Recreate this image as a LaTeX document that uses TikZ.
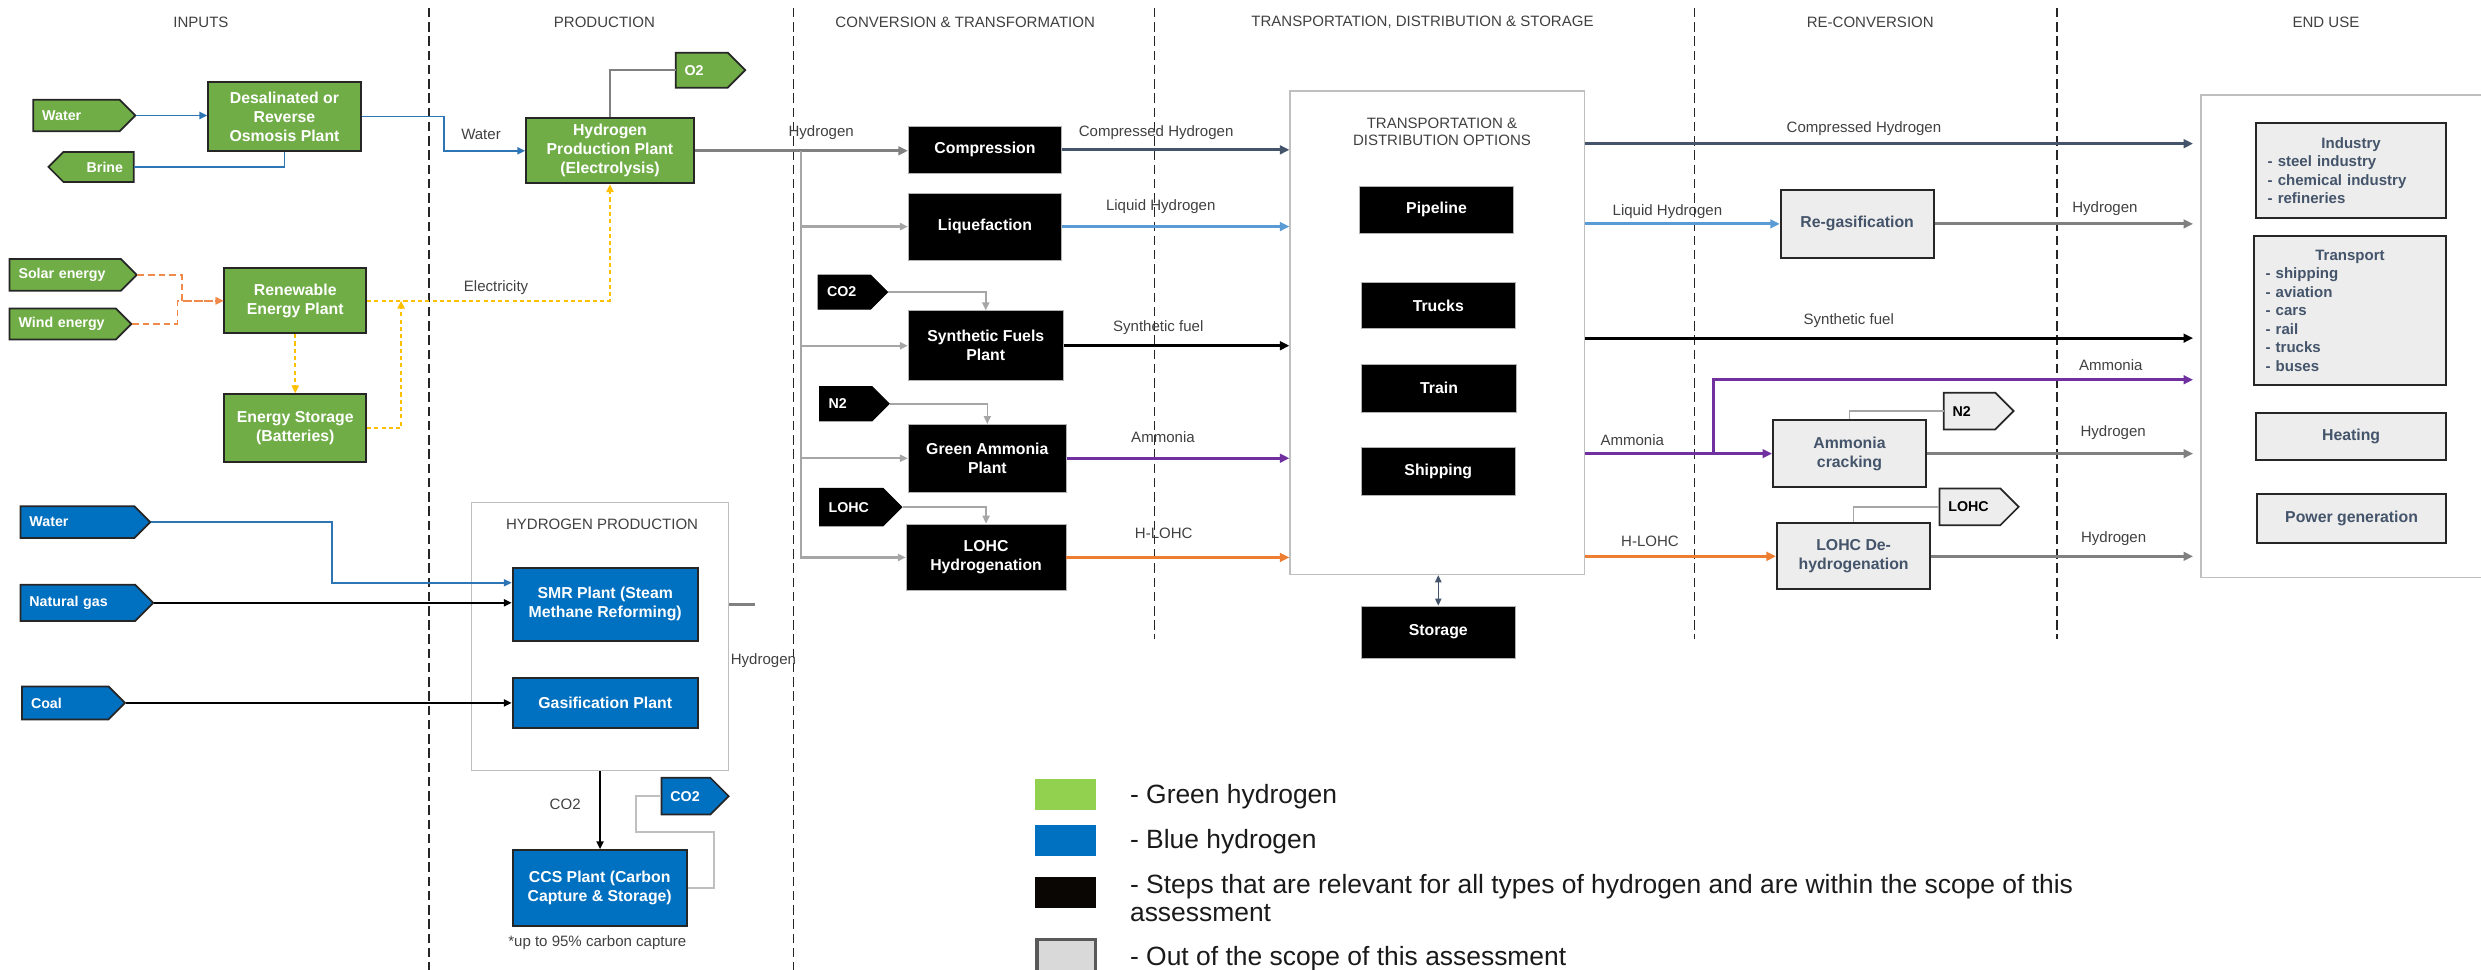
\documentclass[tikz,border=0pt]{standalone}
\usepackage{fontspec}
\setmainfont{Liberation Sans}
\usetikzlibrary{arrows.meta,calc}

\definecolor{ggreen}{HTML}{70AD47}
\definecolor{bblue}{HTML}{0070C0}
\definecolor{edge}{HTML}{262626}
\definecolor{txtgray}{HTML}{404040}
\definecolor{lgreen}{HTML}{92D050}
\definecolor{slate}{HTML}{44546A}
\definecolor{lblue}{HTML}{5B9BD5}
\definecolor{purp}{HTML}{7030A0}
\definecolor{orng}{HTML}{ED7D31}
\definecolor{lorng}{HTML}{F08A4B}
\definecolor{yell}{HTML}{FFC000}
\definecolor{hgray}{HTML}{808080}
\definecolor{lgray}{HTML}{A6A6A6}
\definecolor{cgray}{HTML}{BFBFBF}
\definecolor{boxgray}{HTML}{EDEDED}
\definecolor{wblue}{HTML}{2E75B6}
\definecolor{leggray}{HTML}{D9D9D9}
\definecolor{legedge}{HTML}{595959}
\definecolor{legtxt}{HTML}{1A1A1A}

% pentagon tag pointing right: shape style, text style, name, x1, x2, y1, y2, text
\newcommand{\tagE}[8]{%
  \pgfmathsetmacro\tgh{(#7-#6)/2}%
  \pgfmathsetmacro\tgH{#7-#6}%
  \pgfmathsetmacro\tgm{(#6+#7)/2}%
  \pgfmathsetmacro\tgw{#5-#4}%
  \pgfmathsetmacro\tgp{#5-\tgh}%
  \pgfmathsetmacro\tgt{#5-#4-11}%
  \path[#1] (#4,#6) -- (\tgp,#6) -- (#5,\tgm) -- (\tgp,#7) -- (#4,#7) -- cycle;
  \node[#2, align=left, inner xsep=5.5pt, inner ysep=0pt, text width=\tgt pt,
        minimum width=\tgw pt, minimum height=\tgH pt, anchor=west] (#3) at (#4,\tgm) {#8};
}
% pentagon tag pointing left
\newcommand{\tagW}[8]{%
  \pgfmathsetmacro\tgh{(#7-#6)/2}%
  \pgfmathsetmacro\tgH{#7-#6}%
  \pgfmathsetmacro\tgm{(#6+#7)/2}%
  \pgfmathsetmacro\tgw{#5-#4}%
  \pgfmathsetmacro\tgp{#4+\tgh}%
  \pgfmathsetmacro\tgt{#5-#4-13}%
  \path[#1] (#4,\tgm) -- (\tgp,#6) -- (#5,#6) -- (#5,#7) -- (\tgp,#7) -- cycle;
  \node[#2, align=right, inner xsep=6.5pt, inner ysep=0pt, text width=\tgt pt,
        minimum width=\tgw pt, minimum height=\tgH pt, anchor=east] (#3) at (#5,\tgm) {#8};
}

\tikzset{
  lbl/.style={font=\fontsize{9.5}{11}\selectfont, text=txtgray, inner sep=0pt},
  wh/.style 2 args={minimum width=#1pt, minimum height=#2pt},
  boxbase/.style={rectangle, align=center, inner sep=0pt,
    font=\fontsize{10}{12}\selectfont\bfseries},
  greenbox/.style={boxbase, fill=ggreen, draw=edge, line width=1.2pt, text=white},
  bluebox/.style={boxbase, fill=bblue, draw=edge, line width=1.2pt, text=white},
  blackbox/.style={boxbase, fill=black, draw=gray!60, line width=0.5pt, text=white},
  greybox/.style={boxbase, fill=boxgray, draw=edge, line width=1.2pt, text=slate},
  listbox/.style={greybox, align=left, font=\fontsize{9.5}{11.7}\selectfont\bfseries},
  container/.style={rectangle, draw=cgray, line width=1pt, inner sep=0pt},
  gtag/.style={fill=ggreen, draw=edge, line width=1.1pt},
  btag/.style={fill=bblue, draw=edge, line width=1.1pt},
  ktag/.style={fill=black, draw=black, line width=0.6pt},
  ytag/.style={fill=boxgray, draw=edge, line width=1.1pt},
  wtext/.style={text=white, font=\fontsize{9}{10}\selectfont\bfseries},
  ktext/.style={text=black, font=\fontsize{9}{10}\selectfont\bfseries},
  divider/.style={draw=edge, line width=0.9pt, dash pattern=on 6pt off 3pt},
  smalltip/.style={-{Triangle[length=5pt,width=4.5pt]}},
  flow/.style={line width=1.8pt, -{Triangle[length=6pt,width=5.5pt]}},
  water/.style={color=wblue, line width=1.1pt, smalltip},
  feed/.style={color=black, line width=1.2pt, smalltip},
  branch/.style={color=lgray, line width=1.4pt, smalltip},
  tagfeed/.style={color=lgray, line width=1pt, smalltip},
  tagline/.style={color=lgray, line width=1pt},
  solarline/.style={color=lorng, line width=1.1pt, dash pattern=on 4.2pt off 2.5pt, smalltip},
  elec/.style={color=yell, line width=1.3pt, dash pattern=on 2.6pt off 2pt, smalltip},
  legsq/.style={rectangle, inner sep=0pt, minimum width=38.8pt, minimum height=19.6pt},
  legtext/.style={font=\fontsize{16.7}{18}\selectfont, text=legtxt, inner sep=0pt, anchor=base west},
}

\begin{document}
\begin{tikzpicture}[x=1pt,y=-1pt]
\useasboundingbox (0,0) rectangle (1568,613);

% ---------- column headers and dividers ----------
\node[lbl] (hin)  at (127,14)  {INPUTS};
\node[lbl] (hpr)  at (382,14)  {PRODUCTION};
\node[lbl] (hct)  at (610,14)  {CONVERSION \& TRANSFORMATION};
\node[lbl] (htd)  at (899,14)  {TRANSPORTATION, DISTRIBUTION \& STORAGE};
\node[lbl] (hrc)  at (1182,14) {RE-CONVERSION};
\node[lbl] (heu)  at (1470,14) {END USE};

\draw[divider] (271,5) -- (271,613);
\draw[divider] (501.5,5) -- (501.5,613);
\draw[divider] (729.5,5) -- (729.5,404);
\draw[divider] (1071,5) -- (1071,404);
\draw[divider] (1300,5) -- (1300,404);

% ---------- green hydrogen inputs ----------
\tagE{gtag}{wtext}{gwater}{21}{85.5}{63}{83}{Water}
\tagW{gtag}{wtext}{brine}{30.6}{84.5}{96}{115}{Brine}
\tagE{gtag}{wtext}{o2}{427}{471}{33.3}{55.4}{O2}
\tagE{gtag}{wtext}{solar}{6}{86.4}{163.7}{183.7}{Solar energy}
\tagE{gtag}{wtext}{wind}{6}{83}{195}{214.5}{Wind energy}

\node[greenbox, wh={96.4}{43.9}] (desal)  at (179.8,73.6) {Desalinated or\\Reverse\\Osmosis Plant};
\node[greenbox, wh={106}{41}]    (h2p)    at (385.5,95.3) {Hydrogen\\Production Plant\\(Electrolysis)};
\node[greenbox, wh={89.6}{41}]   (renew)  at (186.6,190.1) {Renewable\\Energy Plant};
\node[greenbox, wh={89.6}{42.6}] (estore) at (186.6,270.5) {Energy Storage\\(Batteries)};

\draw[water] (gwater.east) -- (gwater.east -| desal.west);
\draw[water] (desal.east) -- ++(52,0) |- (h2p.west);
\draw[water, -] (desal.south) |- (brine.east);
\draw[color=hgray, line width=1pt] (h2p.north) |- (o2.west);
\draw[solarline] (solar.east) -- ++(28,0) |- (renew.west);
\draw[solarline] (wind.east) -- ++(28.7,0) |- (renew.west);
\draw[elec] (renew.east) -| (h2p.south);
\draw[elec] (renew.south) -- (estore.north);
\coordinate (ejoin) at (253.5,190.1);
\draw[elec] (estore.east) -| (ejoin);

\node[lbl] (lwater) at (304,84.7)   {Water};
\node[lbl] (lelec)  at (313.5,181.5) {Electricity};

% ---------- blue hydrogen inputs ----------
\tagE{btag}{wtext}{bwater}{12.9}{95}{320}{340}{Water}
\tagE{btag}{wtext}{ngas}{12.9}{96.8}{369.5}{392.5}{Natural gas}
\tagE{btag}{wtext}{coal}{13.9}{79}{433.8}{454.7}{Coal}
\tagE{btag}{wtext}{bco2}{418}{460.5}{491.6}{514.7}{CO2}

\node[container, wh={162.5}{169.3}] (hprod) at (379.25,402.35) {};
\node[lbl] (hprodt) at (380.5,331.5) {HYDROGEN PRODUCTION};
\node[bluebox, wh={117}{46}]   (smr)   at (382.5,382)   {SMR Plant (Steam\\Methane Reforming)};
\node[bluebox, wh={117}{31.3}] (gasif) at (382.5,444.3) {Gasification Plant};
\node[bluebox, wh={110}{48}]   (ccs)   at (379,561.3)   {CCS Plant (Carbon\\Capture \& Storage)};
\node[lbl] (note) at (377.5,596) {*up to 95\% carbon capture};

\coordinate (smrin) at ($(smr.west)+(0,-13.7)$);
\draw[water] (bwater.east) -- ++(114.6,0) |- (smrin);
\draw[feed] (ngas.east) -- (ngas.east -| smr.west);
\draw[feed] (coal.east) -- (coal.east -| gasif.west);
\coordinate (stubend) at (477,382);
\draw[color=hgray, line width=1.8pt] (hprod.east |- smr.east) -- (stubend);
\node[lbl] (lh2b) at (482.5,417.6) {Hydrogen};
\draw[feed] (hprod.south) -- (hprod.south |- ccs.north);
\node[lbl] (lco2) at (357.2,508.6) {CO2};
\draw[color=cgray, line width=1pt] (ccs.east) -- ++(16.8,0) |- ++(-49.3,-35.6) |- (bco2.west);

% ---------- conversion & transformation ----------
\tagE{ktag}{wtext}{kco2}{517}{561}{173.8}{195.4}{CO2}
\tagE{ktag}{wtext}{kn2}{518}{562}{244.4}{266}{N2}
\tagE{ktag}{wtext}{klohc}{518}{570}{308.7}{332.3}{LOHC}

\node[blackbox, wh={97}{29.4}]  (comp)  at (622.5,94.7)  {Compression};
\node[blackbox, wh={97}{42.4}]  (liq)   at (622.5,143.2) {Liquefaction};
\node[blackbox, wh={98}{44.2}]  (synf)  at (623,218.5)   {Synthetic Fuels\\Plant};
\node[blackbox, wh={100}{42.8}] (gamm)  at (624,289.6)   {Green Ammonia\\Plant};
\node[blackbox, wh={101}{42.2}] (lohch) at (623.2,352.3) {LOHC\\Hydrogenation};

\draw[color=hgray, line width=2pt, -{Triangle[length=6pt,width=5.5pt]}] (h2p.east) -- (h2p.east -| comp.west);
\coordinate (bustop) at (506,95.3);
\draw[branch] (bustop) |- (lohch.west);
\draw[branch] (bustop |- liq.west) -- (liq.west);
\draw[branch] (bustop |- synf.west) -- (synf.west);
\draw[branch] (bustop |- gamm.west) -- (gamm.west);
\node[lbl] (lh2a) at (519,83.9) {Hydrogen};

\draw[tagfeed] (kco2.east) -| (synf.north);
\draw[tagfeed] (kn2.east) -| (gamm.north);
\draw[tagfeed] (klohc.east) -| (lohch.north);

% ---------- transportation, distribution & storage ----------
\node[container, wh={186.1}{305.4}] (tdo) at (908.45,210.3) {};
\node[lbl, align=center, font=\fontsize{9.5}{10.7}\selectfont] (tdot) at (911.3,83.4) {TRANSPORTATION \&\\DISTRIBUTION OPTIONS};
\node[blackbox, wh={97.4}{29.3}] (pipe)    at (907.9,132.6) {Pipeline};
\node[blackbox, wh={97}{29.5}]   (trucks)  at (909,193.1)   {Trucks};
\node[blackbox, wh={98}{30.6}]   (train)   at (909.5,245.3) {Train};
\node[blackbox, wh={97}{30.5}]   (ship)    at (909,298)     {Shipping};
\node[blackbox, wh={97}{32.8}]   (storage) at (909,399.4)   {Storage};

\draw[flow, color=slate]  (comp.east)  -- (comp.east -| tdo.west);
\draw[flow, color=lblue]  (liq.east)   -- (liq.east -| tdo.west);
\draw[flow, color=black]  (synf.east)  -- (synf.east -| tdo.west);
\draw[flow, color=purp]   (gamm.east)  -- (gamm.east -| tdo.west);
\draw[flow, color=orng]   (lohch.east) -- (lohch.east -| tdo.west);
\draw[color=slate, line width=1pt, {Triangle[length=4.5pt,width=4pt]}-{Triangle[length=4.5pt,width=4pt]}]
  (storage.north |- tdo.south) -- (storage.north);

\node[lbl] (lcomp) at (730.7,83.9)  {Compressed Hydrogen};
\node[lbl] (lliq)  at (733.6,130.6) {Liquid Hydrogen};
\node[lbl] (lsyn)  at (732,207)     {Synthetic fuel};
\node[lbl] (lamm)  at (735,276)     {Ammonia};
\node[lbl] (lhl)   at (735.5,337)   {H-LOHC};

% ---------- re-conversion ----------
\tagE{ytag}{ktext}{gn2}{1228.4}{1272.6}{248.2}{271.4}{N2}
\tagE{ytag}{ktext}{glohc}{1225.7}{1275.8}{308.7}{331.9}{LOHC}

\node[greybox, wh={96.6}{43}]   (regas) at (1173.7,141.5) {Re-gasification};
\node[greybox, wh={96.8}{42.5}] (crack) at (1168.9,286.7) {Ammonia\\cracking};
\node[greybox, wh={97}{41.7}]   (dehyd) at (1171.5,351.6) {LOHC De-\\hydrogenation};

\coordinate (eu)  at (1386,0);
\coordinate (yC)  at (0,90.8);
\coordinate (yS)  at (0,213.7);
\coordinate (yA)  at (0,240);
\coordinate (abr) at (1083,0);

\draw[flow, color=slate] (tdo.east |- yC) -- (eu |- yC);
\draw[flow, color=lblue] (tdo.east |- regas.west) -- (regas.west);
\draw[flow, color=hgray] (regas.east) -- (eu |- regas.east);
\draw[flow, color=black] (tdo.east |- yS) -- (eu |- yS);
\draw[flow, color=purp]  (tdo.east |- crack.west) -- (crack.west);
\draw[flow, color=purp]  (abr |- crack.west) |- (eu |- yA);
\draw[flow, color=hgray] (crack.east) -- (eu |- crack.east);
\draw[flow, color=orng]  (tdo.east |- dehyd.west) -- (dehyd.west);
\draw[flow, color=hgray] (dehyd.east) -- (eu |- dehyd.east);
\draw[tagline] (crack.north) |- (gn2.west);
\draw[tagline] (dehyd.north) |- (glohc.west);

\node[lbl] (rcomp) at (1178,81.3)    {Compressed Hydrogen};
\node[lbl] (rliq)  at (1053.8,133.5) {Liquid Hydrogen};
\node[lbl] (rh2a)  at (1330.3,132)   {Hydrogen};
\node[lbl] (rsyn)  at (1168.4,202.7) {Synthetic fuel};
\node[lbl] (ramm1) at (1031.6,278)   {Ammonia};
\node[lbl] (ramm2) at (1334,231)     {Ammonia};
\node[lbl] (rh2b)  at (1335.5,273.5) {Hydrogen};
\node[lbl] (rhl)   at (1042.8,341.8) {H-LOHC};
\node[lbl] (rh2c)  at (1335.8,340.7) {Hydrogen};

% ---------- end use ----------
\draw[color=cgray, line width=1pt] (1568,60) -- (1391,60) -- (1391,365) -- (1568,365);
\node[listbox, wh={120.2}{59.6}, text width=105.4pt] (industry) at (1485.9,107.8)
  {\makebox[\linewidth]{Industry}\\- steel industry\\- chemical industry\\- refineries};
\node[listbox, wh={121.6}{94.4}, text width=106.6pt] (transport) at (1485.2,196.2)
  {\makebox[\linewidth]{Transport}\\- shipping\\- aviation\\- cars\\- rail\\- trucks\\- buses};
\node[greybox, wh={120}{30}]   (heating) at (1485.9,276)   {Heating};
\node[greybox, wh={119.5}{30.5}] (power) at (1486.2,327.7) {Power generation};

% ---------- legend ----------
\node[legsq, fill=lgreen] (lg1) at (673.4,502.2) {};
\node[legsq, fill=bblue]  (lg2) at (673.4,531.3) {};
\node[legsq, fill=black!95!brown] (lg3) at (673.4,563.8) {};
\draw[fill=leggray, draw=legedge, line width=2.2pt] (655.5,593.6) rectangle (692.2,617);
\node[legtext] (lt1) at (714,507.8) {- Green hydrogen};
\node[legtext] (lt2) at (714,536)   {- Blue hydrogen};
\node[legtext] (lt3) at (714,564.7) {- Steps that are relevant for all types of hydrogen and are within the scope of this};
\node[legtext] (lt3b) at (714,582.6) {assessment};
\node[legtext] (lt4) at (714,610)   {- Out of the scope of this assessment};
\end{tikzpicture}
\end{document}
